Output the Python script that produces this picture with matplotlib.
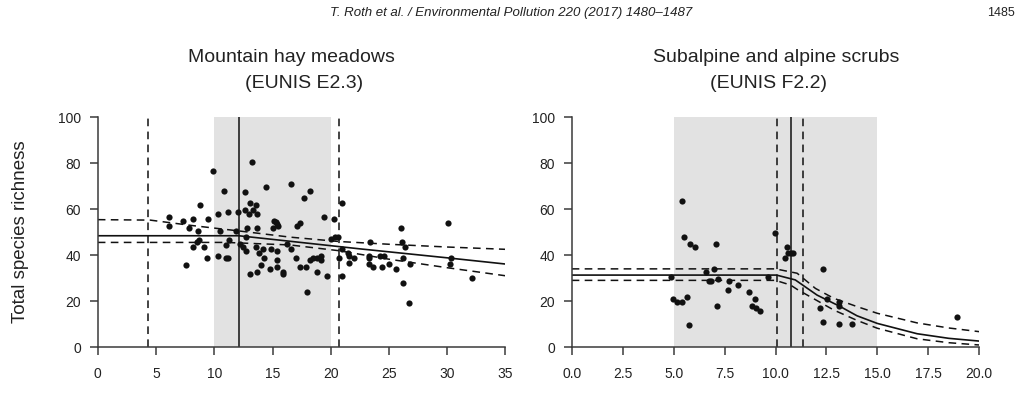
import matplotlib
matplotlib.use('Agg')
import matplotlib.pyplot as plt

plt.rcParams['font.family'] = ['Liberation Sans', 'DejaVu Sans']

# --- Mountain hay meadows (EUNIS E2.3) ---
hay_x = [6.1, 6.1, 7.3, 7.6, 7.8, 8.2, 8.2, 8.5, 8.7, 8.6, 8.8, 9.1, 9.4, 9.5, 9.9,
         10.3, 10.3, 10.5, 10.8, 11.0, 11.2, 11.0, 11.2, 11.3, 11.9, 12.0, 12.2, 12.5,
         12.6, 12.6, 12.7, 12.7, 12.8, 13.0, 13.1, 13.1, 13.2, 13.3, 13.6, 13.6, 13.7,
         13.7, 13.7, 13.8, 14.0, 14.2, 14.3, 14.4, 14.8, 14.9, 15.0, 15.1, 15.3, 15.4,
         15.5, 15.4, 15.4, 15.4, 15.9, 15.9, 16.2, 16.6, 16.6, 17.0, 17.1, 17.4, 17.4,
         17.7, 17.9, 18.0, 18.2, 18.2, 18.5, 18.8, 18.8, 19.2, 19.2, 19.4, 19.7, 20.0,
         20.3, 20.4, 20.6, 20.7, 21.0, 21.0, 21.0, 21.5, 21.6, 21.6, 22.0, 23.3, 23.3,
         23.3, 23.4, 23.6, 24.2, 24.4, 24.6, 25.0, 25.6, 26.0, 26.1, 26.2, 26.2, 26.4,
         26.7, 26.8, 30.1, 30.3, 30.2, 32.1]
hay_y = [56.8, 52.7, 54.9, 35.8, 51.7, 55.8, 43.7, 45.8, 46.7, 50.7, 61.7, 43.7, 38.8, 55.8, 76.8,
         57.8, 39.7, 50.7, 67.8, 38.8, 38.8, 44.6, 58.8, 46.7, 50.7, 58.8, 44.9, 43.7,
         59.7, 67.7, 47.8, 41.9, 51.7, 57.8, 62.9, 31.9, 80.7, 59.7, 61.9, 43.7, 57.8,
         51.7, 32.7, 40.9, 35.8, 42.7, 38.8, 69.8, 33.9, 42.7, 51.9, 54.9, 54.6, 53.6,
         52.7, 41.9, 37.8, 34.8, 32.7, 31.7, 44.9, 70.9, 42.7, 38.8, 52.7, 53.9, 34.8,
         64.8, 34.8, 23.9, 67.8, 38.0, 38.8, 38.8, 32.7, 39.8, 37.8, 56.8, 30.9, 46.9,
         55.8, 47.8, 47.8, 38.8, 62.9, 42.7, 30.9, 40.9, 39.8, 36.8, 38.8, 39.8, 38.7,
         36.1, 45.9, 35.0, 39.8, 35.0, 39.8, 36.1, 33.9, 51.9, 45.9, 39.0, 28.0, 43.7,
         19.1, 36.1, 53.9, 39.0, 36.1, 30.0]
# fitted curve and 95% band
hay_fit_x = [0, 12.1, 16.5, 22.5, 30, 35]
hay_fit_y = [48.5, 48.5, 46.1, 42.8, 38.9, 36.2]
hay_up_x = [0, 4.5, 8, 12.1, 16.5, 20.7, 25, 30, 35]
hay_up_y = [55.5, 55.3, 53.0, 50.6, 47.9, 46.0, 44.8, 43.6, 42.6]
hay_lo_x = [0, 11, 16.5, 20.7, 25, 30, 35]
hay_lo_y = [45.6, 45.6, 44.5, 42.0, 38.3, 34.6, 31.1]
hay_range = (10, 20)       # shaded critical load range
hay_bp = 12.1              # breakpoint
hay_bp_ci = (4.3, 20.7)

# --- Subalpine and alpine scrubs (EUNIS F2.2) ---
scrub_x = [4.85, 4.98, 5.16, 5.4, 5.42, 5.49, 5.68, 5.78, 5.81, 6.03, 6.58, 6.75, 6.85, 6.98,
           7.1, 7.14, 7.16, 7.68, 7.73, 8.14, 8.7, 8.86, 8.99, 9.06, 9.25, 9.61, 9.96, 10.48,
           10.55, 10.63, 10.78, 10.86, 12.17, 12.31, 12.33, 12.53, 13.1, 13.1, 13.14, 13.76,
           18.92]
scrub_y = [30.7, 21.0, 19.8, 19.8, 63.7, 47.8, 21.9, 9.8, 44.9, 43.7, 32.9, 29.0, 29.0, 33.9,
           44.9, 17.8, 29.8, 24.9, 28.8, 26.9, 23.9, 17.9, 20.9, 16.9, 15.9, 30.7, 49.8, 38.7,
           43.7, 40.9, 40.9, 40.9, 17.0, 33.9, 10.9, 20.9, 19.8, 17.8, 10.0, 10.0,
           13.0]
scrub_fit_x = [0, 10.05, 10.97, 12.04, 13.18, 14.0, 14.99, 16.95, 18.5, 20]
scrub_fit_y = [31.4, 31.4, 29.3, 22.7, 17.7, 13.7, 10.4, 5.9, 3.9, 2.7]
scrub_up_x = [0, 10.0, 11.06, 11.96, 12.86, 14.0, 14.99, 16.95, 18.5, 20]
scrub_up_y = [34.1, 34.1, 32.2, 25.6, 21.3, 17.7, 14.8, 10.6, 8.4, 6.8]
scrub_lo_x = [0, 10.0, 10.73, 11.06, 12.86, 14.0, 14.99, 16.95, 18.5, 20]
scrub_lo_y = [29.1, 29.1, 27.1, 25.2, 16.2, 11.7, 8.3, 3.7, 2.0, 1.0]
scrub_range = (5, 15)
scrub_bp = 10.75
scrub_bp_ci = (10.05, 11.35)

W, H = 1023, 397
INK = '#111111'
AXC = '#3a3a3a'
DASH = (0, (5, 3.5))


def panel(ax, px, py, fx, fy, ux, uy, lx, ly, rng, bp, ci, xmax, xticks, xlabels):
    ax.axvspan(rng[0], rng[1], color='#e2e2e2', lw=0, zorder=0)
    ax.axvline(bp, color=INK, lw=1.1, zorder=1)
    for c in ci:
        ax.axvline(c, color=INK, lw=1.1, ls=DASH, zorder=1)
    ax.plot(fx, fy, color=INK, lw=1.2, zorder=2)
    ax.plot(ux, uy, color=INK, lw=1.1, ls=DASH, zorder=2)
    ax.plot(lx, ly, color=INK, lw=1.1, ls=DASH, zorder=2)
    ax.scatter(px, py, s=20, color=INK, lw=0, zorder=3)

    ax.set_xlim(0, xmax)
    ax.set_ylim(0, 100)
    ax.set_xticks(xticks)
    ax.set_xticklabels(xlabels)
    ax.set_yticks([0, 20, 40, 60, 80, 100])
    for s in ['top', 'right']:
        ax.spines[s].set_visible(False)
    for s in ['left', 'bottom']:
        ax.spines[s].set_color(AXC)
        ax.spines[s].set_linewidth(1.1)
    ax.tick_params(axis='both', direction='out', length=6, width=1.1, color=AXC,
                   labelsize=10, labelcolor='#222222')
    ax.tick_params(axis='x', pad=8)
    ax.tick_params(axis='y', pad=6)


fig = plt.figure(figsize=(W / 100, H / 100), dpi=100)

# axes boxes in pixel coordinates of the reference
ax1 = fig.add_axes([97.8 / W, 1 - 347.3 / H, 407.7 / W, 230 / H])
ax2 = fig.add_axes([571.7 / W, 1 - 347.3 / H, 407.6 / W, 230 / H])

panel(ax1, hay_x, hay_y, hay_fit_x, hay_fit_y, hay_up_x, hay_up_y, hay_lo_x, hay_lo_y,
      hay_range, hay_bp, hay_bp_ci, 35, [0, 5, 10, 15, 20, 25, 30, 35],
      ['0', '5', '10', '15', '20', '25', '30', '35'])
panel(ax2, scrub_x, scrub_y, scrub_fit_x, scrub_fit_y, scrub_up_x, scrub_up_y,
      scrub_lo_x, scrub_lo_y, scrub_range, scrub_bp, scrub_bp_ci, 20,
      [0, 2.5, 5, 7.5, 10, 12.5, 15, 17.5, 20],
      ['0.0', '2.5', '5.0', '7.5', '10.0', '12.5', '15.0', '17.5', '20.0'])

fig.text(21 / W, 1 - 232 / H, 'Total species richness', rotation=90,
         ha='center', va='center', fontsize=13.5, color='#222222')

# panel titles (two lines each)
fig.text(291 / W, 1 - 57 / H, 'Mountain hay meadows', ha='center', va='center',
         fontsize=14, color='#222222')
fig.text(304 / W, 1 - 84 / H, '(EUNIS E2.3)', ha='center', va='center',
         fontsize=14, color='#222222')
fig.text(776 / W, 1 - 57 / H, 'Subalpine and alpine scrubs', ha='center', va='center',
         fontsize=14, color='#222222')
fig.text(769 / W, 1 - 84 / H, '(EUNIS F2.2)', ha='center', va='center',
         fontsize=14, color='#222222')

# journal header
fig.text(511 / W, 1 - 13 / H, 'T. Roth et al. / Environmental Pollution 220 (2017) 1480\u20131487',
         ha='center', va='center', fontsize=9.5, style='italic', color='#222222')
fig.text(1015 / W, 1 - 13 / H, '1485', ha='right', va='center', fontsize=9, color='#222222')

plt.savefig('out.png', dpi=100)
